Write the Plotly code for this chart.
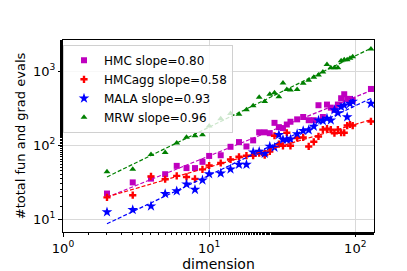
import numpy as np
import plotly.graph_objects as go

dims = [2, 3, 4, 5, 6, 7, 8, 9, 10, 12, 14, 16, 18, 20, 22, 24, 26, 28, 30, 32, 34, 36,
        40, 44, 48, 52, 56, 60, 64, 68, 72, 76, 80, 84, 88, 92, 96, 128]

hmc = [22.2, 31.4, 35.3, 40.5, 52.5, 49.0, 49.0, 59.5, 71.5, 73, 95, 110, 96, 116, 149, 149,
       145, 200, 175, 170, 190, 207, 223, 240, 217, 217, 346, 240, 353, 321, 300, 353,
       430, 487, 421, 421, 401, 574]
hmcagg = [19.7, 21.1, 37.8, 34.6, 38.5, 37.2, 35.0, 47.0, 53.1, 57.4, 64, 69.7, 72, 72, 78,
          73.3, 82.2, 134, 103, 98, 147, 98, 125, 127, 96, 111, 131, 162, 167, 162, 145,
          162, 147, 147, 184, 190, 184, 209]
mala = [12.5, 13.4, 15.0, 22.0, 24.0, 29.7, 25.1, 33.6, 40.8, 41.7, 47.3, 54.7, 54.7, 80.5,
        82, 77, 96, 93, 138, 119, 119, 120, 142, 156, 160, 179, 217, 213, 230, 217, 299,
        272, 330, 346, 240, 364, 389, 364]
mrw = [43.6, 47.3, 74.6, 79.3, 107, 128, 134, 138, 181, 228, 268, 262, 300, 340, 443, 390,
       486, 512, 450, 690, 563, 555, 563, 684, 754, 829, 889, 970, 1227, 1110, 1110, 1110,
       1377, 1420, 1420, 1490, 1563, 1990]

names = ["HMC", "HMCagg", "MALA", "MRW"]
slopes_txt = ["0.80", "0.58", "0.93", "0.96"]
series = [hmc, hmcagg, mala, mrw]
colors = ["#BF00BF", "#FF0000", "#0000FF", "#008000"]
symbols = ["square", "cross", "star", "triangle-up"]
sizes = [6, 6, 8, 6]

x_ticks = [1, 10, 100]
x_ticktext = ["10<sup>0</sup>", "10<sup>1</sup>", "10<sup>2</sup>"]
y_ticks = [10, 100, 1000]
y_ticktext = ["10<sup>1</sup>", "10<sup>2</sup>", "10<sup>3</sup>"]

fig = go.Figure()
d = np.array(dims, dtype=float)
for name, s, vals, c, sym, sz in zip(names, slopes_txt, series, colors, symbols, sizes):
    v = np.array(vals, dtype=float)
    fig.add_trace(go.Scatter(x=d, y=v, mode="markers", name=f"{name} slope={s}",
                             marker=dict(symbol=sym, color=c, size=sz, line=dict(width=0))))
for vals, c in zip(series, colors):
    v = np.array(vals, dtype=float)
    k, b = np.polyfit(np.log10(d), np.log10(v), 1)
    xf = np.array([d.min(), d.max()])
    fig.add_trace(go.Scatter(x=xf, y=10 ** (b + k * np.log10(xf)), mode="lines",
                             line=dict(color=c, width=1.2, dash="4px,2px"),
                             showlegend=False, hoverinfo="skip"))

axis_common = dict(type="log", showline=True, linecolor="black", linewidth=1, mirror=True,
                   ticks="outside", ticklen=4, tickcolor="black", showgrid=True,
                   gridcolor="#d9d9d9", gridwidth=1, zeroline=False,
                   tickfont=dict(family="DejaVu Sans", size=13, color="black"),
                   minor=dict(ticks="outside", ticklen=2, tickcolor="black", showgrid=False))

fig.update_layout(
    width=407, height=271,
    margin=dict(l=51, r=41, t=32, b=34),
    paper_bgcolor="white", plot_bgcolor="white",
    font=dict(family="DejaVu Sans", size=12, color="black"),
    xaxis=dict(axis_common, range=[0, 2.128], tickvals=x_ticks, ticktext=x_ticktext,
               title=dict(text="dimension", font=dict(size=14), standoff=2)),
    yaxis=dict(axis_common, range=[0.827, 3.42], tickvals=y_ticks, ticktext=y_ticktext,
               title=dict(text="#total fun and grad evals", font=dict(size=13), standoff=4)),
    legend=dict(x=0.0, y=0.975, xanchor="left", yanchor="top", bgcolor="rgba(255,255,255,0.8)",
                bordercolor="#d0d0d0", borderwidth=1, font=dict(size=12),
                itemwidth=30, tracegroupgap=0),
    showlegend=True,
)

fig.write_html("out.html")
